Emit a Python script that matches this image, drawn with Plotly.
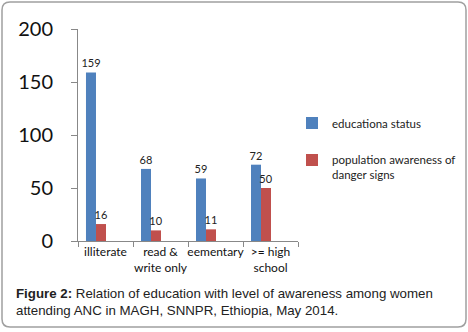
import plotly.graph_objects as go

categories = ["illiterate", "read &<br>write only", "eementary", ">= high<br>school"]
educational_status = [159, 68, 59, 72]
awareness = [16, 10, 11, 50]
y_ticks = [0, 50, 100, 150, 200]

W, H = 468, 332
L, R, T, B = 78, 298, 29, 241  # plot area pixels

def px(x):
    return (x - L) / (R - L)

def py(y):
    return (B - y) / (B - T)

FONT = "Lato"
fig = go.Figure()
fig.add_trace(go.Bar(
    x=categories, y=educational_status, name="educationa status",
    marker=dict(color="#4F81BD", line=dict(width=0)),
    width=0.182, offset=-0.355,
    text=educational_status, textposition="outside", constraintext="none",
    textfont=dict(family=FONT, size=11, color="#222"),
    cliponaxis=False, legend="legend",
))
fig.add_trace(go.Bar(
    x=categories, y=awareness, name="population awareness of<br>danger signs",
    marker=dict(color="#C0504D", line=dict(width=0)),
    width=0.182, offset=-0.173,
    text=awareness, textposition="outside", constraintext="none",
    textfont=dict(family=FONT, size=11, color="#222"),
    cliponaxis=False, legend="legend2",
))

# rounded border
x0, x1, y0, y1, r = 2, 466, 2, 327, 8
path = (f"M {px(x0+r)} {py(y0)} L {px(x1-r)} {py(y0)} Q {px(x1)} {py(y0)} {px(x1)} {py(y0+r)} "
        f"L {px(x1)} {py(y1-r)} Q {px(x1)} {py(y1)} {px(x1-r)} {py(y1)} "
        f"L {px(x0+r)} {py(y1)} Q {px(x0)} {py(y1)} {px(x0)} {py(y1-r)} "
        f"L {px(x0)} {py(y0+r)} Q {px(x0)} {py(y0)} {px(x0+r)} {py(y0)} Z")
fig.add_shape(type="path", path=path, xref="paper", yref="paper",
              line=dict(color="#A0A0A0", width=1.5), layer="below")

fig.add_annotation(
    x=px(14), y=py(284), xref="paper", yref="paper", xanchor="left", yanchor="top",
    align="left", showarrow=False,
    text="<b>Figure 2:</b> Relation of education with level of awareness among women<br>attending ANC in MAGH, SNNPR, Ethiopia, May 2014.",
    font=dict(family="Liberation Sans", size=13.3, color="#222"),
)

fig.update_layout(
    width=W, height=H,
    margin=dict(l=L, r=W - R, t=T, b=H - B, pad=0, autoexpand=False),
    paper_bgcolor="white", plot_bgcolor="white",
    barmode="overlay", showlegend=True,
    legend=dict(x=px(292), y=py(109), xanchor="left", yanchor="top",
                font=dict(family=FONT, size=11.5, color="#222"),
                bgcolor="rgba(0,0,0,0)", itemwidth=30, valign="top"),
    legend2=dict(x=px(292), y=py(146), xanchor="left", yanchor="top",
                 font=dict(family=FONT, size=11.5, color="#222"),
                 bgcolor="rgba(0,0,0,0)", itemwidth=30, valign="top"),
    xaxis=dict(showline=True, linecolor="#888", linewidth=1, ticks="outside",
               tickson="boundaries", ticklen=5, tickcolor="#888", tickangle=0,
               tickfont=dict(family=FONT, size=12, color="#111"),
               showgrid=False, fixedrange=True, automargin=False),
    yaxis=dict(range=[0, 200], tickvals=y_ticks, showline=True, linecolor="#888",
               linewidth=1, ticks="outside", ticklen=6, tickcolor="#888",
               tickfont=dict(family=FONT, size=20, color="#111"),
               ticklabelstandoff=14, showgrid=False, zeroline=False, automargin=False),
)

fig.write_html("out.html", config={"displayModeBar": False},
               post_script="document.body.style.margin='0';document.body.style.overflow='hidden';")
